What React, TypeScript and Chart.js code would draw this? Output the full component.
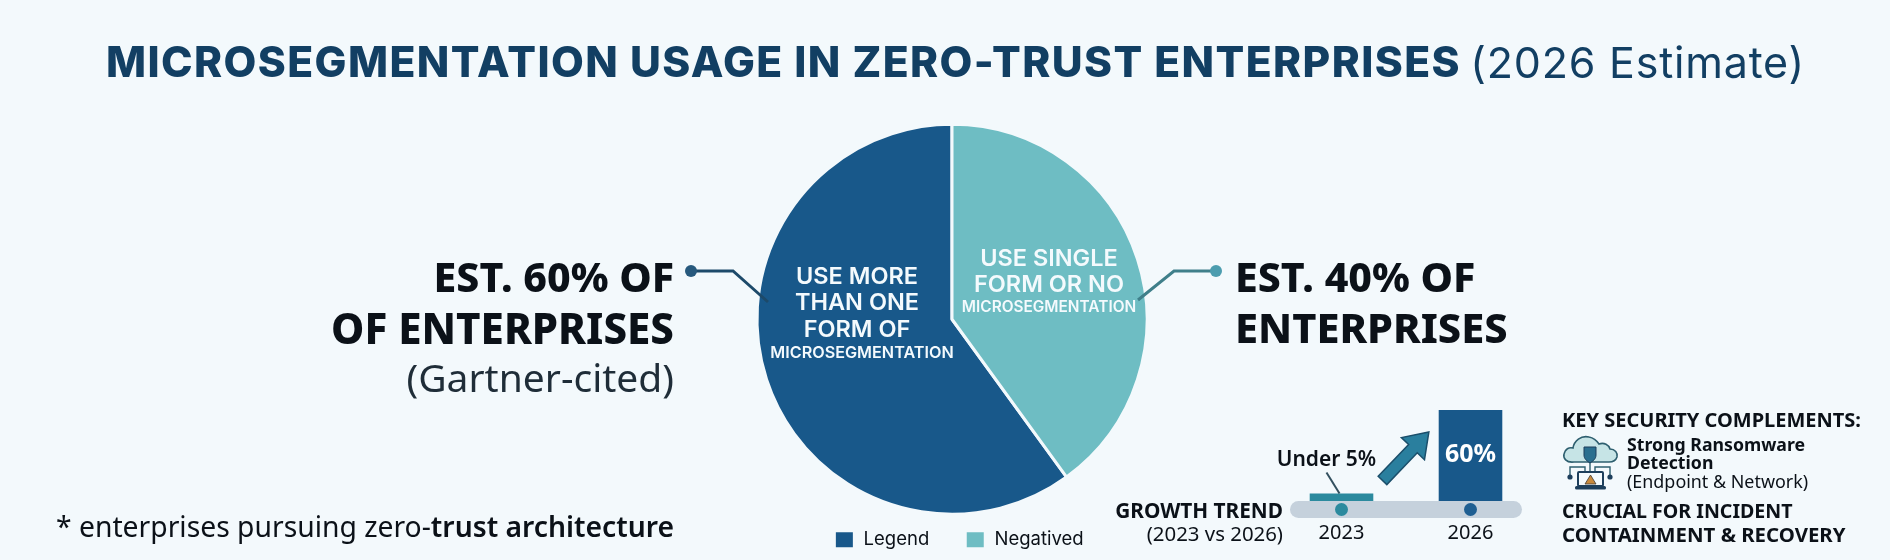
import { useEffect, useRef } from "react";
import { Chart, registerables } from "chart.js";
import type { CSSProperties, ReactNode } from "react";

Chart.register(...registerables);

const shareLabels = ["Legend", "Negatived"];
const shareValues = [60, 40];
const trendYears = ["2023", "2026"];
const trendValues = [5, 60];
const trendLabels = ["Under 5%", "60%"];

const NAVY = "#18588a";
const TEAL = "#6ebdc3";
const PAGE = "#f3f9fc";
const INK = "#0b1118";

const leaderPlugin = {
  id: "leaders",
  afterLayout(chart: any) {
    // move the legend under the pie, a little right of its centre
    chart.legend.left += 7;
    chart.legend.right += 7;
    chart.legend.top -= 1;
    chart.legend.bottom -= 1;
  },
  afterDatasetsDraw(chart: any) {
    const ctx = chart.ctx;
    const lines = [
      { pts: [[691, 271], [733, 271], [768, 302]], line: "#1d4a6a", dot: "#27597d" },
      { pts: [[1216, 271], [1174, 271], [1138, 300]], line: "#3f7f8a", dot: "#4c9daf" },
    ];
    lines.forEach(({ pts, line, dot }) => {
      ctx.save();
      ctx.strokeStyle = line;
      ctx.lineWidth = 3;
      ctx.beginPath();
      pts.forEach(([x, y], i) => (i ? ctx.lineTo(x, y) : ctx.moveTo(x, y)));
      ctx.stroke();
      ctx.fillStyle = dot;
      ctx.beginPath();
      ctx.arc(pts[0][0], pts[0][1], 6, 0, Math.PI * 2);
      ctx.fill();
      ctx.restore();
    });
  },
};

const trendPlugin = {
  id: "trend",
  beforeDatasetsDraw(chart: any) {
    const { ctx, chartArea, scales } = chart;
    // grey rail the bars stand on
    ctx.save();
    ctx.fillStyle = "#c5d1dc";
    ctx.beginPath();
    ctx.roundRect(chartArea.left + 13, chartArea.bottom, chartArea.width - 26, 17, 8.5);
    ctx.fill();
    trendYears.forEach((year, i) => {
      ctx.fillStyle = i ? "#1f5f92" : "#2b8a9e";
      ctx.beginPath();
      ctx.arc(scales.x.getPixelForValue(i), chartArea.bottom + 8.5, 6.5, 0, Math.PI * 2);
      ctx.fill();
    });
    ctx.restore();
  },
  afterDatasetsDraw(chart: any) {
    const { ctx } = chart;
    const bars = chart.getDatasetMeta(0).data;
    ctx.save();
    ctx.textAlign = "center";
    ctx.textBaseline = "middle";

    // "Under 5%" sits above its bar with a short pointer
    const low = bars[0];
    ctx.fillStyle = INK;
    ctx.font = "600 21px 'Noto Sans'";
    ctx.fillText(trendLabels[0], low.x - 15, low.y - 33);
    ctx.strokeStyle = "#33505f";
    ctx.lineWidth = 2;
    ctx.beginPath();
    ctx.moveTo(low.x - 15, low.y - 21);
    ctx.lineTo(low.x - 2, low.y);
    ctx.stroke();

    const high = bars[1];
    ctx.fillStyle = "#ffffff";
    ctx.font = "700 25px 'Noto Sans'";
    ctx.fillText(trendLabels[1], high.x, high.y + 45);

    // growth arrow between the bars
    const tx = low.x + 41;
    const ty = low.y - 13;
    ctx.translate(tx, ty);
    ctx.rotate(Math.atan2(-48, 46));
    ctx.fillStyle = "#2a7f9e";
    ctx.strokeStyle = "#1b4f6b";
    ctx.lineWidth = 1.5;
    ctx.beginPath();
    ctx.moveTo(0, -6);
    ctx.lineTo(44, -6);
    ctx.lineTo(44, -16);
    ctx.lineTo(67, 0);
    ctx.lineTo(44, 16);
    ctx.lineTo(44, 6);
    ctx.lineTo(0, 6);
    ctx.closePath();
    ctx.fill();
    ctx.stroke();
    ctx.restore();
  },
};

function ShareChart() {
  const ref = useRef<HTMLCanvasElement>(null);

  useEffect(() => {
    if (!ref.current) return;
    const chart = new Chart(ref.current, {
      type: "pie",
      data: {
        labels: shareLabels,
        datasets: [
          {
            data: shareValues,
            backgroundColor: [NAVY, TEAL],
            borderColor: PAGE,
            borderWidth: 3,
            radius: 195,
            clip: false,
          } as any,
        ],
      },
      options: {
        animation: false,
        responsive: false,
        rotation: 144,
        layout: { padding: { left: 14, top: 143 } },
        plugins: {
          tooltip: { enabled: false },
          legend: {
            position: "bottom",
            labels: {
              boxWidth: 20,
              boxHeight: 18,
              padding: 36,
              color: INK,
              font: { family: "Inter", size: 18.5 },
            },
          },
        },
      },
      plugins: [leaderPlugin],
    });
    return () => chart.destroy();
  }, []);

  return <canvas ref={ref} width={1890} height={560} style={{ position: "absolute", left: 0, top: 0 }} />;
}

function TrendChart() {
  const ref = useRef<HTMLCanvasElement>(null);

  useEffect(() => {
    if (!ref.current) return;
    const chart = new Chart(ref.current, {
      type: "bar",
      data: {
        labels: trendYears,
        datasets: [
          {
            data: trendValues,
            backgroundColor: ["#2b8a9e", NAVY],
            barPercentage: 0.493,
            categoryPercentage: 1,
          },
        ],
      },
      options: {
        animation: false,
        responsive: false,
        layout: { padding: { top: 10 } },
        plugins: { legend: { display: false }, tooltip: { enabled: false } },
        scales: {
          y: { display: false, min: 0, max: 60 },
          x: {
            grid: { display: false },
            border: { display: false },
            ticks: {
              padding: 12,
              color: INK,
              font: { family: "Noto Sans", size: 20 },
            },
          },
        },
      },
      plugins: [trendPlugin],
    });
    return () => chart.destroy();
  }, []);

  return <canvas ref={ref} width={258} height={157} style={{ position: "absolute", left: 1277, top: 400 }} />;
}

function Label(props: {
  x: number;
  y: number;
  align?: "left" | "right" | "center";
  size: number;
  weight?: number;
  color?: string;
  font?: string;
  spacing?: number;
  children: ReactNode;
}) {
  const { x, y, align = "left", size, weight = 400, color = INK, font = "Noto Sans", spacing = 0, children } = props;
  const style: CSSProperties = {
    position: "absolute",
    top: y,
    fontFamily: `'${font}', sans-serif`,
    fontSize: size,
    fontWeight: weight,
    color,
    letterSpacing: spacing,
    whiteSpace: "nowrap",
    lineHeight: 1,
    transform: align === "center" ? "translate(-50%, -50%)" : "translateY(-50%)",
  };
  if (align === "right") style.right = 1890 - x;
  else style.left = x;
  return <div style={style}>{children}</div>;
}

function RansomwareIcon() {
  return (
    <svg width={75} height={70} viewBox="0 0 75 70" style={{ position: "absolute", left: 1555, top: 430 }}>
      <path
        d="M19 32 C11 33 8 28 9 24 C10 19 14 17 18 18 C19 11 26 5 34 7 C39 8 42 11 44 14 C49 12 54 15 55 19 C60 19 63 23 62 27 C61 30 58 32 54 32 Z"
        fill="#c6e4e6"
        stroke="#2e5f6f"
        strokeWidth={1.6}
      />
      <g fill="none" stroke="#2e5f6f" strokeWidth={1.4}>
        <path d="M35 30 V42" />
        <path d="M15 46 V37 H30 V42" />
        <path d="M55 46 V37 H40 V42" />
      </g>
      <circle cx={15} cy={47} r={2.6} fill="#1d3f5c" />
      <circle cx={55} cy={47} r={2.6} fill="#1d3f5c" />
      <path d="M29 17 H41 V25 C41 29 38 31 35 33 C32 31 29 29 29 25 Z" fill="#2a6f8f" stroke="#1d3f5c" strokeWidth={1} />
      <rect x={23} y={42} width={25} height={14} rx={1} fill="#f4fafd" stroke="#1d3f5c" strokeWidth={2} />
      <rect x={20} y={56} width={31} height={3.4} rx={1.5} fill="#1d3f5c" />
      <path d="M35.5 45 L41 54 H30 Z" fill="#c98a3c" stroke="#3d3a36" strokeWidth={0.8} />
    </svg>
  );
}

export default function App() {
  return (
    <div
      style={{
        position: "absolute",
        left: 0,
        top: 0,
        width: 1890,
        height: 560,
        overflow: "hidden",
        background: PAGE,
      }}
    >
      <ShareChart />
      <TrendChart />
      <RansomwareIcon />

      <Label x={106} y={62} size={42.5} weight={800} color="#123f63" font="Inter" spacing={1.4}>
        MICROSEGMENTATION USAGE IN ZERO-TRUST ENTERPRISES
      </Label>
      <Label x={1805} y={62} size={43} align="right" color="#123f63" font="Inter" spacing={0.8}>
        (2026 Estimate)
      </Label>

      <Label x={674} y={276} size={41} weight={800} align="right">EST. 60% OF</Label>
      <Label x={674} y={328} size={42} weight={800} align="right">OF ENTERPRISES</Label>
      <Label x={674} y={376} size={39} align="right" color="#1f2d38">(Gartner-cited)</Label>
      <Label x={1235} y={276} size={41} weight={800}>EST. 40% OF</Label>
      <Label x={1235} y={328} size={41.5} weight={800}>ENTERPRISES</Label>

      <Label x={857} y={276} size={23.5} weight={600} align="center" color="#f4fafd" font="Inter">USE MORE</Label>
      <Label x={857} y={302} size={23.5} weight={600} align="center" color="#f4fafd" font="Inter">THAN ONE</Label>
      <Label x={857} y={329} size={23.5} weight={600} align="center" color="#f4fafd" font="Inter">FORM OF</Label>
      <Label x={862} y={352} size={16.2} weight={600} align="center" color="#f4fafd" font="Inter">MICROSEGMENTATION</Label>
      <Label x={1049} y={258} size={23.5} weight={600} align="center" color="#f4fafd" font="Inter">USE SINGLE</Label>
      <Label x={1049} y={284} size={23.5} weight={600} align="center" color="#f4fafd" font="Inter">FORM OR NO</Label>
      <Label x={1049} y={307} size={15.4} weight={600} align="center" color="#f4fafd" font="Inter">MICROSEGMENTATION</Label>

      <Label x={56} y={526} size={28.3}>
        * enterprises pursuing zero-<span style={{ fontWeight: 600 }}>trust architecture</span>
      </Label>

      <Label x={1283} y={510} size={20.8} weight={700} align="right">GROWTH TREND</Label>
      <Label x={1283} y={533} size={20.4} align="right">(2023 vs 2026)</Label>

      <Label x={1562} y={420} size={20} weight={700}>KEY SECURITY COMPLEMENTS:</Label>
      <Label x={1627} y={445} size={17.7} weight={700}>Strong Ransomware</Label>
      <Label x={1627} y={463} size={17.7} weight={700}>Detection</Label>
      <Label x={1627} y={482} size={17.9}>(Endpoint &amp; Network)</Label>
      <Label x={1562} y={511} size={19.6} weight={700}>CRUCIAL FOR INCIDENT</Label>
      <Label x={1562} y={534} size={20.4} weight={700}>CONTAINMENT &amp; RECOVERY</Label>
    </div>
  );
}
